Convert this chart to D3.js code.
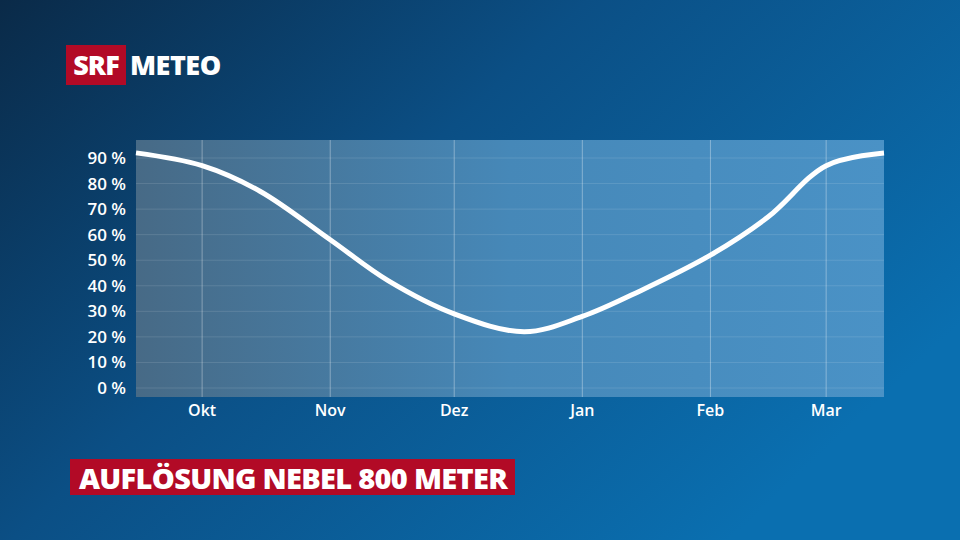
<!DOCTYPE html>
<html><head><meta charset="utf-8">
<script src="https://cdn.jsdelivr.net/npm/d3@7"></script>
<style>body{margin:0;overflow:hidden}</style>
</head><body><div id="viz"></div>
<script>
var dates = ["2000-09-15","2000-10-01","2000-10-15","2000-11-01","2000-11-15","2000-12-01","2000-12-18","2001-01-01","2001-01-15","2001-02-01","2001-02-15","2001-03-01","2001-03-15"]
var values = [92, 87, 77, 58, 42, 29, 22, 28, 38, 52, 67, 87, 92]
var monthTicks = ["2000-10-01","2000-11-01","2000-12-01","2001-01-01","2001-02-01","2001-03-01"]
var monthLabels = ["Okt","Nov","Dez","Jan","Feb","Mar"]
var yTicks = [0,10,20,30,40,50,60,70,80,90]

var parse = d3.timeParse("%Y-%m-%d")
var svg = d3.select("#viz").append("svg").attr("width",960).attr("height",540)
var defs = svg.append("defs")
var bg = defs.append("linearGradient").attr("id","bg").attr("x1","0").attr("y1","0").attr("x2","1").attr("y2","0.6")
bg.append("stop").attr("offset","0").attr("stop-color","#0a2a48")
bg.append("stop").attr("offset","0.45").attr("stop-color","#0b4f85")
bg.append("stop").attr("offset","1").attr("stop-color","#0a6fb0")
svg.append("rect").attr("width",960).attr("height",540).attr("fill","url(#bg)")

var pg = defs.append("linearGradient").attr("id","pg").attr("x1","0").attr("y1","0").attr("x2","1").attr("y2","0")
pg.append("stop").attr("offset","0").attr("stop-color","#476a86")
pg.append("stop").attr("offset","0.5").attr("stop-color","#4688b8")
pg.append("stop").attr("offset","1").attr("stop-color","#4a92c6")

// logo
svg.append("rect").attr("x",66).attr("y",45).attr("width",60).attr("height",40).attr("fill","#b20a26")
svg.append("text").attr("x",96).attr("y",75).attr("text-anchor","middle").attr("fill","#fff")
  .style("font","800 27px 'Open Sans'").attr("letter-spacing",-1).text("SRF")
svg.append("text").attr("x",130).attr("y",75).attr("fill","#fff")
  .style("font","800 27px 'Open Sans'").attr("letter-spacing",-0.5).text("METEO")

var x = d3.scaleTime().domain([parse(dates[0]), parse(dates[dates.length-1])]).range([136,884])
var y = d3.scaleLinear().domain([0,90]).range([388,158])

svg.append("rect").attr("x",136).attr("y",140).attr("width",748).attr("height",257).attr("fill","url(#pg)")

svg.append("g").selectAll("line").data(yTicks).join("line")
  .attr("x1",136).attr("x2",884).attr("y1",d=>y(d)).attr("y2",d=>y(d))
  .attr("stroke","#ffffff").attr("stroke-opacity",0.12)
svg.append("g").selectAll("line").data(monthTicks).join("line")
  .attr("x1",d=>x(parse(d))).attr("x2",d=>x(parse(d))).attr("y1",140).attr("y2",397)
  .attr("stroke","#ffffff").attr("stroke-opacity",0.35)

svg.append("g").selectAll("text").data(yTicks).join("text")
  .attr("x",126).attr("y",d=>y(d)+6).attr("text-anchor","end").attr("fill","#fff")
  .style("font","600 17px 'Open Sans'").text(d=>d+" %")
svg.append("g").selectAll("text").data(monthTicks).join("text")
  .attr("x",d=>x(parse(d))).attr("y",416).attr("text-anchor","middle").attr("fill","#fff")
  .style("font","600 16px 'Open Sans'").text((d,i)=>monthLabels[i])

var line = d3.line().x((d,i)=>x(parse(dates[i]))).y(d=>y(d)).curve(d3.curveCatmullRom)
svg.append("path").attr("d",line(values)).attr("fill","none").attr("stroke","#fff").attr("stroke-width",5)

svg.append("rect").attr("x",70).attr("y",459).attr("width",445).attr("height",36).attr("fill","#b20a26")
svg.append("text").attr("x",79).attr("y",489).attr("fill","#fff")
  .style("font","800 29px 'Open Sans'").attr("letter-spacing",-0.8).attr("textLength",428).text("AUFLÖSUNG NEBEL 800 METER")
</script></body></html>
